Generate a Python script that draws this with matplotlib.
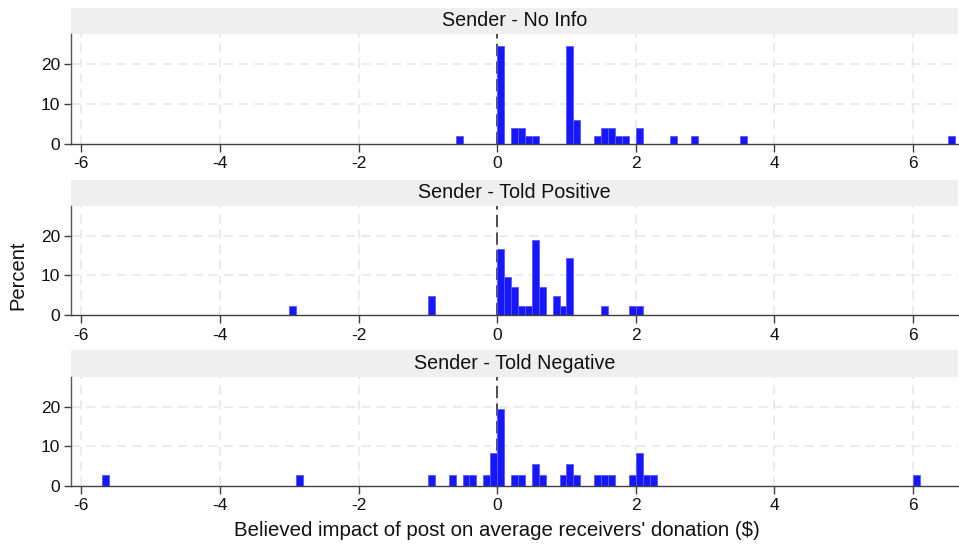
import matplotlib
matplotlib.use("Agg")
import matplotlib.pyplot as plt
from matplotlib.patches import Rectangle
import numpy as np

plt.rcParams["font.family"] = ["Liberation Sans", "DejaVu Sans"]

# Histogram data: left edges of 0.1-wide bins, counts per bin, group sizes
titles = ["Sender - No Info", "Sender - Told Positive", "Sender - Told Negative"]

no_info_bins = [-0.6, 0.0, 0.2, 0.3, 0.4, 0.5, 1.0, 1.1, 1.4, 1.5, 1.6, 1.7, 1.8,
                2.0, 2.5, 2.8, 3.5, 6.5]
no_info_counts = [1, 12, 2, 2, 1, 1, 12, 3, 1, 2, 2, 1, 1, 2, 1, 1, 1, 1]
no_info_n = 49

positive_bins = [-3.0, -1.0, 0.0, 0.1, 0.2, 0.3, 0.4, 0.5, 0.6, 0.8, 0.9, 1.0,
                 1.5, 1.9, 2.0]
positive_counts = [1, 2, 7, 4, 3, 1, 1, 8, 3, 2, 1, 6, 1, 1, 1]
positive_n = 42

negative_bins = [-5.7, -2.9, -1.0, -0.7, -0.5, -0.4, -0.2, -0.1, 0.0, 0.2, 0.3,
                 0.5, 0.6, 0.9, 1.0, 1.1, 1.4, 1.5, 1.6, 1.9, 2.0, 2.1, 2.2, 6.0]
negative_counts = [1, 1, 1, 1, 1, 1, 1, 3, 7, 1, 1, 2, 1, 1, 2, 1, 1, 1, 1, 1, 3,
                   1, 1, 1]
negative_n = 36

bin_width = 0.1
x_ticks = [-6, -4, -2, 0, 2, 4, 6]
y_ticks = [0, 10, 20]

panels = [
    (no_info_bins, no_info_counts, no_info_n),
    (positive_bins, positive_counts, positive_n),
    (negative_bins, negative_counts, negative_n),
]

W, H = 959, 544
fig = plt.figure(figsize=(W / 100, H / 100), dpi=100)
fig.patch.set_facecolor("white")

# pixel layout of each panel: (strip top, axes top, axes bottom)
rows = [(8, 34, 144), (180, 206, 315), (350, 377, 486)]
left_px, right_px = 71, 958

bar_color = "#1616ff"
edge_color = "#5a5aff"
grid_color = "#e6e6e6"
spine_color = "#404040"

for (bins, counts, n), (s_top, a_top, a_bot), title in zip(panels, rows, titles):
    ax = fig.add_axes([left_px / W, 1 - a_bot / H,
                       (right_px - left_px) / W, (a_bot - a_top) / H])
    pct = np.array(counts) / n * 100
    ax.set_xlim(-6.15, 6.65)
    ax.set_ylim(0, 27.5)

    # dashed grid at the ticks
    for xv in x_ticks:
        ax.axvline(xv, color=grid_color, lw=1.1, dashes=(6, 4), zorder=0)
    for yv in y_ticks[1:]:
        ax.axhline(yv, color=grid_color, lw=1.1, dashes=(6, 4), zorder=0)

    # reference line at zero
    ax.axvline(0, color="#222222", lw=1.1, dashes=(8, 3.5), zorder=1)

    ax.bar(bins, pct, width=bin_width, align="edge", color=bar_color,
           edgecolor=edge_color, linewidth=0.6, zorder=2)

    for side in ["top", "right"]:
        ax.spines[side].set_visible(False)
    ax.spines["left"].set_color("#555555")
    ax.spines["left"].set_linewidth(1.0)
    ax.spines["bottom"].set_color(spine_color)
    ax.spines["bottom"].set_linewidth(1.0)

    ax.set_xticks(x_ticks)
    ax.set_xticklabels([str(t) for t in x_ticks])
    ax.set_yticks(y_ticks)
    ax.tick_params(axis="both", direction="out", length=5, width=1.0,
                   colors="#404040", labelcolor="#111111", labelsize=12.5,
                   pad=3)
    ax.tick_params(axis="x", length=6)

    # grey title strip above the panel
    fig.add_artist(Rectangle((left_px / W, 1 - a_top / H),
                             (right_px - left_px) / W, (a_top - s_top) / H,
                             transform=fig.transFigure, facecolor="#efefef",
                             edgecolor="none", zorder=0))
    fig.text((left_px + right_px) / 2 / W, 1 - (s_top + a_top) / 2 / H, title,
             ha="center", va="center", fontsize=14.2, color="#111111")

fig.text(497 / W, 1 - 530 / H,
         "Believed impact of post on average receivers' donation ($)",
         ha="center", va="center", fontsize=14.7, color="#111111")
fig.text(18 / W, 1 - 275 / H, "Percent", ha="center", va="center",
         rotation=90, fontsize=14.5, color="#111111")

fig.savefig("out.png", dpi=100)
